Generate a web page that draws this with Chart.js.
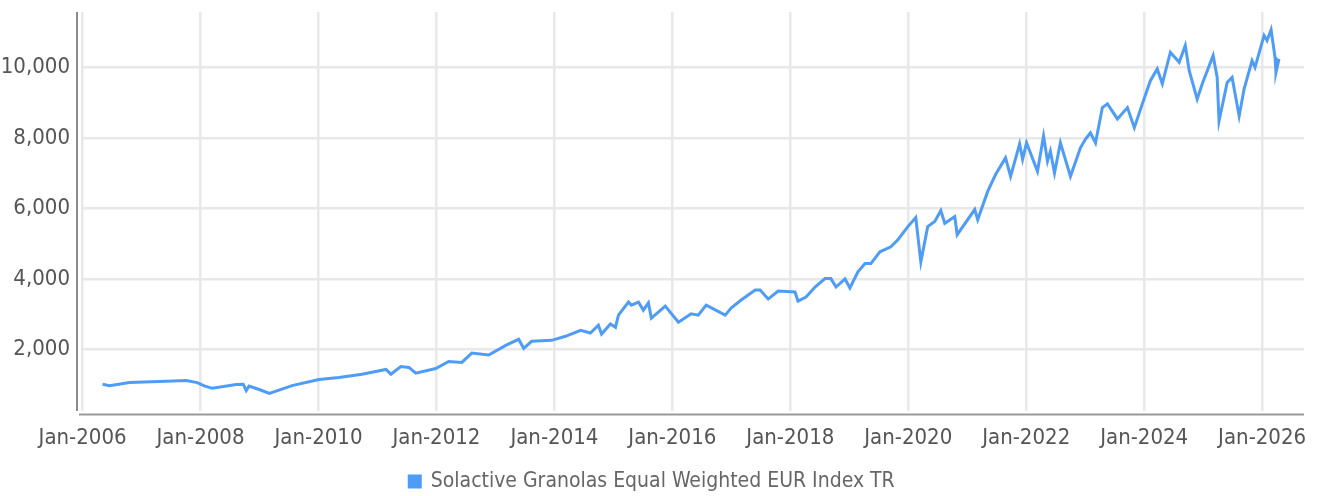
<!DOCTYPE html>
<html>
<head>
<meta charset="utf-8">
<script src="https://cdn.jsdelivr.net/npm/chart.js@4.4.1/dist/chart.umd.min.js"></script>
<style>
  html, body { margin: 0; padding: 0; background: #fff; }
  #wrap { width: 1323px; height: 496px; }
</style>
</head>
<body>
<div id="wrap"><canvas id="myLine" width="1323" height="496"></canvas></div>
<script>
// series
var seriesName = 'Solactive Granolas Equal Weighted EUR Index TR';
var dates = [
  '2006-05-03','2006-06-15','2006-10-17','2007-04-20','2007-10-04','2007-12-11',
  '2008-01-24','2008-03-13','2008-08-09','2008-09-22','2008-10-10','2008-10-28',
  '2008-12-29','2009-03-01','2009-07-20','2010-01-04','2010-05-06','2010-09-27',
  '2011-02-23','2011-03-23','2011-05-24','2011-07-13','2011-08-25','2011-12-27',
  '2012-03-16','2012-06-06','2012-08-07','2012-11-20','2013-03-04','2013-05-23',
  '2013-06-24','2013-08-12','2013-12-14','2014-03-09','2014-06-11','2014-08-11',
  '2014-09-30','2014-10-19','2014-12-13','2015-01-14','2015-02-02','2015-04-03',
  '2015-04-21','2015-06-04','2015-07-04','2015-08-05','2015-08-23','2015-11-18',
  '2016-02-08','2016-04-26','2016-06-09','2016-07-28','2016-11-24','2016-12-30',
  '2017-03-01','2017-05-27','2017-06-27','2017-08-16','2017-10-17','2018-01-30',
  '2018-02-18','2018-04-07','2018-06-02','2018-08-03','2018-09-09','2018-10-10',
  '2018-12-05','2019-01-05','2019-02-24','2019-04-07','2019-05-13','2019-07-08',
  '2019-09-15','2019-10-28','2019-12-29','2020-02-17','2020-03-18','2020-04-30',
  '2020-06-13','2020-07-20','2020-08-14','2020-10-15','2020-10-30','2021-02-17',
  '2021-03-05','2021-05-06','2021-06-25','2021-08-25','2021-09-26','2021-11-21',
  '2021-12-09','2022-01-03','2022-03-10','2022-04-17','2022-05-11','2022-05-29',
  '2022-06-24','2022-07-30','2022-10-01','2022-12-02','2023-01-03','2023-02-03',
  '2023-03-04','2023-04-16','2023-05-17','2023-07-18','2023-09-19','2023-11-01',
  '2023-12-20','2024-02-09','2024-03-21','2024-04-22','2024-06-11','2024-08-05',
  '2024-09-12','2024-10-06','2024-11-25','2024-12-26','2025-03-02','2025-03-27',
  '2025-04-08','2025-05-28','2025-06-28','2025-08-11','2025-09-11','2025-10-30',
  '2025-11-18','2026-01-13','2026-02-01','2026-02-26','2026-03-20','2026-03-26',
  '2026-04-14'
];
var values = [
  1009, 970, 1057, 1086, 1114, 1057,
  963, 894, 1000, 1010, 830, 960,
  860, 751, 971, 1143, 1200, 1295,
  1429, 1295, 1514, 1486, 1323, 1457,
  1657, 1629, 1895, 1838, 2114, 2286,
  2029, 2229, 2257, 2371, 2543, 2466,
  2686, 2437, 2723, 2629, 2971, 3343,
  3257, 3343, 3114, 3323, 2886, 3229,
  2771, 3010, 2971, 3257, 2971, 3171,
  3400, 3686, 3686, 3429, 3657, 3629,
  3371, 3486, 3771, 4009, 4009, 3771,
  4000, 3743, 4200, 4437, 4437, 4771,
  4914, 5114, 5486, 5743, 4486, 5486,
  5629, 5943, 5580, 5771, 5257, 5971,
  5686, 6486, 6971, 7437, 6914, 7829,
  7400, 7866, 7057, 8057, 7343, 7629,
  7009, 7866, 6914, 7723, 7971, 8152,
  7866, 8866, 8971, 8543, 8866, 8295,
  8971, 9629, 9963, 9543, 10437, 10152,
  10629, 9914, 9105, 9543, 10343, 9723,
  8486, 9580, 9723, 8629, 9391, 10200,
  10009, 10914, 10771, 11077, 10294, 9866,
  10248
];
var yTicks = [2000, 4000, 6000, 8000, 10000];
var xTicks = [2006, 2008, 2010, 2012, 2014, 2016, 2018, 2020, 2022, 2024, 2026];

function toYear(s) {
  var p = s.split('-');
  return +p[0] + (+p[1] - 1) / 12 + (+p[2] - 1) / 365;
}
var points = [];
dates.forEach(function(d, i) {
  points.push({ x: toYear(d), y: values[i] });
});

var fontFamily = "'DejaVu Sans Condensed', 'DejaVu Sans', sans-serif";

// axis lines sit a little outside the plot area
var axisLines = {
  id: 'axisLines',
  afterDraw: function(chart) {
    var a = chart.chartArea, ctx = chart.ctx;
    ctx.save();
    ctx.lineWidth = 2;
    ctx.strokeStyle = '#8c8c8c';
    ctx.beginPath();
    ctx.moveTo(a.left - 5, a.top);
    ctx.lineTo(a.left - 5, a.bottom);
    ctx.stroke();
    ctx.strokeStyle = '#9a9a9a';
    ctx.beginPath();
    ctx.moveTo(a.left - 3, a.bottom + 3.5);
    ctx.lineTo(a.right, a.bottom + 3.5);
    ctx.stroke();
    ctx.restore();
  }
};

var myLine = new Chart(document.getElementById('myLine'), {
  type: 'line',
  data: {
    datasets: [{
      label: seriesName,
      data: points,
      borderColor: '#4f9cf6',
      backgroundColor: '#4f9cf6',
      borderWidth: 3,
      pointRadius: 0,
      tension: 0,
      fill: false
    }]
  },
  options: {
    responsive: false,
    animation: false,
    layout: { padding: { left: 0, right: 19, top: 12, bottom: -6 } },
    plugins: {
      tooltip: { enabled: false },
      legend: {
        position: 'bottom',
        labels: {
          boxWidth: 11,
          boxHeight: 11,
          padding: 6,
          color: '#666',
          font: { family: fontFamily, size: 21 }
        }
      }
    },
    scales: {
      x: {
        type: 'linear',
        min: 2005.99,
        max: 2026.71,
        afterBuildTicks: function(s) { s.ticks = xTicks.map(function(v) { return { value: v }; }); },
        afterFit: function(s) { s.height = 54; s.paddingLeft = 0; s.paddingRight = 0; },
        grid: { color: '#e8e8e8', lineWidth: 2.5, drawTicks: false },
        border: { display: false },
        ticks: {
          padding: 14,
          maxRotation: 0,
          color: '#555',
          font: { family: fontFamily, size: 22 },
          callback: function(v) { return 'Jan-' + Math.round(v); }
        }
      },
      y: {
        min: 250,
        max: 11580,
        afterBuildTicks: function(s) { s.ticks = yTicks.map(function(v) { return { value: v }; }); },
        afterFit: function(s) { s.width = 82; s.paddingTop = 0; s.paddingBottom = 0; },
        grid: { color: '#e8e8e8', lineWidth: 2.5, drawTicks: false },
        border: { display: false },
        ticks: {
          padding: 12,
          color: '#555',
          font: { family: fontFamily, size: 22 },
          callback: function(v) { return v.toLocaleString('en-US'); }
        }
      }
    }
  },
  plugins: [axisLines]
});
</script>
</body>
</html>
